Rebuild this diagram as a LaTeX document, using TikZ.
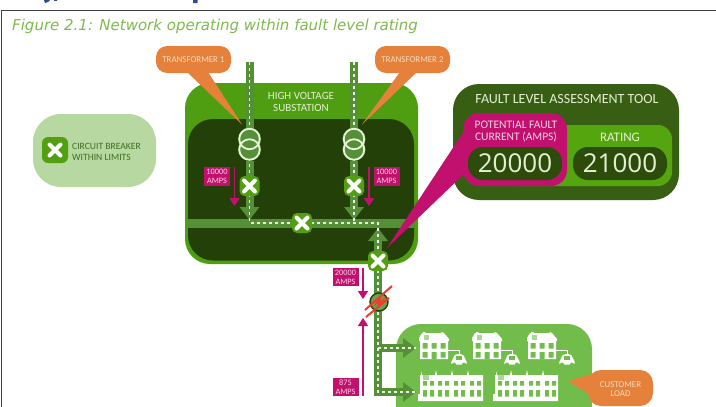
\documentclass[tikz,border=0pt]{standalone}
\usepackage{fontspec}
\setmainfont{Carlito}
\newfontfamily\capfont{DejaVu Sans}
\newfontfamily\numfont{Open Sans}
\usetikzlibrary{arrows.meta}
\pgfdeclarelayer{base}
\pgfdeclarelayer{wires}
\pgfsetlayers{base,wires,main}
\definecolor{capgreen}{HTML}{7FBA4E}
\definecolor{subgreen}{HTML}{4F9E12}
\definecolor{subdark}{HTML}{234008}
\definecolor{linegreen}{HTML}{558F38}
\definecolor{dashwhite}{HTML}{E8F2DC}
\definecolor{cbgreen}{HTML}{52A012}
\definecolor{magentaun}{HTML}{C2106E}
\definecolor{pinktext}{HTML}{F5D3E4}
\definecolor{calloutor}{HTML}{E5813B}
\definecolor{calltext}{HTML}{F6DCC0}
\definecolor{legendgr}{HTML}{B7D9A1}
\definecolor{legendtx}{HTML}{3F6E20}
\definecolor{toolgreen}{HTML}{375E12}
\definecolor{pillgreen}{HTML}{2D4C0B}
\definecolor{ratinggr}{HTML}{54A50E}
\definecolor{loadgreen}{HTML}{72BC4B}
\definecolor{txtlight}{HTML}{E4EFD2}
\definecolor{headnavy}{HTML}{2F4C8C}
\definecolor{faultred}{HTML}{E8402A}
\tikzset{
  x=1pt,y=-1pt,
  breaker/.style={rectangle,rounded corners=5pt,minimum size=20pt,inner sep=0pt,fill=cbgreen,
    path picture={\draw[white,line width=4pt,line cap=round]
      ([shift={(-5.5pt,-5.5pt)}]path picture bounding box.center)--([shift={(5.5pt,5.5pt)}]path picture bounding box.center)
      ([shift={(-5.5pt,5.5pt)}]path picture bounding box.center)--([shift={(5.5pt,-5.5pt)}]path picture bounding box.center);}},
  feeder/.style={draw=linegreen,line width=8pt},
  feederarrow/.style={draw=linegreen,line width=8pt,-{Triangle[length=13pt,width=19pt]}},
  dashline/.style={draw=dashwhite,line width=1.2pt,dash pattern=on 3.2pt off 2.8pt},
  ampbox/.style={fill=magentaun,text=pinktext,font=\fontsize{8.3}{9.2}\selectfont,align=center,inner sep=0pt,minimum width=26pt,minimum height=18.5pt},
  amparrow/.style={draw=magentaun,line width=1.7pt,-{Triangle[length=8pt,width=10pt]}},
  calloutlabel/.style={text=calltext,font=\fontsize{8.9}{9}\selectfont,align=center,inner sep=0pt},
  panellabel/.style={text=txtlight,align=center,inner sep=0pt},
  trcoil/.style={circle,draw=dashwhite,line width=1.8pt,minimum size=20.5pt,inner sep=0pt},
  valuepill/.style={rectangle,rounded corners=15pt,fill=pillgreen,minimum width=94pt,minimum height=33pt,inner sep=0pt,
    text=txtlight,font=\numfont\fontsize{26}{28}\selectfont},
}
% Detached house with its car on a charging lead
\newcommand{\detached}[3]{%
  \fill[white] (#1,#2+6) -- (#1+3,#2+1) -- (#1+4,#2+1) -- (#1+4,#2) -- (#1+6,#2) -- (#1+7,#2+1) -- (#1+22,#2+1) -- (#1+23,#2) -- (#1+25,#2+1) -- (#1+30,#2+7) -- (#1+30,#2+9) -- (#1+29,#2+9) -- (#1+29,#2+27) -- (#1+1,#2+27) -- (#1+1,#2+9) -- (#1,#2+9) -- cycle;
  \fill[loadgreen] (#1+3.5,#2+11) rectangle ++(5,5.5) (#1+12.5,#2+11) rectangle ++(5,5.5) (#1+21.5,#2+11) rectangle ++(5,5.5)
    (#1+3.5,#2+20) rectangle ++(5,5.5) (#1+12.5,#2+20) rectangle ++(5,7) (#1+21.5,#2+20) rectangle ++(5,5.5);
  \fill[loadgreen!60!white] (#1+5,#2+3) rectangle ++(5,5);
  \draw[white,line width=.6pt] (#1+29,#2+18) -- (#3,#2+18) -- (#3,#2+22);
  \fill[white,rounded corners=3pt] (#3-9,#2+32.5) -- (#3-5.5,#2+25.5) -- (#3-4,#2+22) -- (#3+4,#2+22) -- (#3+5.5,#2+25.5) -- (#3+9,#2+32.5) -- cycle;
  \fill[loadgreen] (#3-3,#2+24) rectangle ++(6,3.5);
  \fill[loadgreen] (#3-5,#2+32.5) circle (2pt) (#3+5,#2+32.5) circle (2pt);
}
% Terrace of four homes
\newcommand{\terrace}[2]{%
  \fill[white] (#1,#2+24) -- (#1+2,#2+24) -- (#1+2,#2+5) -- (#1+3,#2+5) -- (#1+3,#2+1) -- (#1+4,#2+5) -- (#1+17,#2+5) -- (#1+18,#2) -- (#1+19,#2+5) -- (#1+33,#2+5) -- (#1+34,#2) -- (#1+35,#2+5) -- (#1+49,#2+5) -- (#1+50,#2) -- (#1+51,#2+5) -- (#1+65,#2+5) -- (#1+65,#2+31) -- (#1,#2+31) -- cycle;
  \foreach \wx in {5,12,20,27,36,43,52,59}{
    \fill[loadgreen] (#1+\wx,#2+11) rectangle ++(4,4.5) (#1+\wx,#2+20) rectangle ++(4,6.5);
  }
  \fill[loadgreen!60!white] (#1+5,#2+4.5) rectangle ++(6,5);
}
\begin{document}
\begin{tikzpicture}
\clip (0,0) rectangle (716,407);

\begin{pgfonlayer}{base}
\fill[white] (0,0) rectangle (716,407);
% page rule and heading remnants
\fill[headnavy] (44,0) -- (50,0) -- (48,2) -- (45,3) -- cycle (54,0) rectangle (57,0.8) (193,0) rectangle (197.5,3);
\draw[black!75,line width=1.2pt] (716,10.3) -- (1.2,10.3) -- (1.2,407);
% legend panel
\fill[legendgr,rounded corners=28pt] (33,114) rectangle (156,187);
% substation
\fill[subgreen,rounded corners=25pt] (185,83) rectangle (418,264);
\fill[subdark,rounded corners=25pt] (188,119) rectangle (414,260.5);
\fill[linegreen] (188,219) rectangle (414,227.5);
% customer load
\fill[loadgreen,rounded corners=25pt] (396,324) rectangle (592,430);
\detached{419}{332}{459}
\detached{472}{332}{512}
\detached{527}{332}{567}
\terrace{418}{370}
\terrace{493}{370}
\end{pgfonlayer}

\node[anchor=west,inner sep=0pt,text=capgreen,font=\capfont\itshape\fontsize{15}{16}\selectfont] (caption) at (12,26) {Figure 2.1: Network operating within fault level rating};
\node[breaker,minimum size=26pt,rounded corners=6pt] (legendcb) at (55,150) {};
\node[anchor=west,inner sep=0pt,align=left,text=legendtx,font=\fontsize{9.6}{11}\selectfont] (legendtext) at (72,151.5) {CIRCUIT BREAKER\\WITHIN LIMITS};
\node[panellabel,font=\fontsize{11}{12}\selectfont] (sublabel) at (301,101.5) {HIGH VOLTAGE\\SUBSTATION};

% free ends and junctions of the network
\coordinate (in1) at (249.5,62);
\coordinate (in2) at (354,62);
\coordinate (bus1) at (249.5,220);
\coordinate (bus2) at (354,220);
\coordinate (busT1) at (249.5,223);
\coordinate (busT2) at (354,223);
\coordinate (busOut) at (378,223);
\coordinate (busTip) at (378,228);
\coordinate (loadA) at (416,348);
\coordinate (loadB) at (416,392);
\coordinate (teeA) at (378,348);
\coordinate (teeB) at (378,392);
\coordinate (teeC) at (374,392);

% breakers and transformers
\node[trcoil] (tr1a) at (249.5,139) {};
\node[trcoil] (tr1b) at (249.5,149.5) {};
\node[trcoil] (tr2a) at (354,139) {};
\node[trcoil] (tr2b) at (354,149.5) {};
\node[breaker] (cb1) at (249.5,186) {};
\node[breaker] (cb2) at (354,186) {};
\node[breaker] (cbbus) at (302,223) {};
\node[breaker] (cbfeed) at (378,261) {};
\node[circle,fill=linegreen!85!white,draw=subdark,line width=1.4pt,minimum size=18pt,inner sep=0pt] (cbopen) at (379,302) {};

\begin{pgfonlayer}{wires}
\draw[feeder] (in1) -- (tr1a);
\draw[feeder] (in2) -- (tr2a);
\draw[feederarrow] (tr1b) -- (bus1);
\draw[feederarrow] (tr2b) -- (bus2);
\draw[feederarrow] (cbfeed) -- (busTip);
\draw[feeder] (cbfeed) -- (teeB);
\draw[feederarrow] (teeA) -- (loadA);
\draw[feederarrow] (teeC) -- (loadB);
\draw[dashline] (in1) -- (busT1) -- (busOut) -- (teeB) -- (loadB);
\draw[dashline] (in2) -- (busT2);
\draw[dashline] (teeA) -- (loadA);
% winding discs sit over the conductors, under the rings
\fill[linegreen] (tr1a) circle (11.5pt) (tr1b) circle (11.5pt) (tr2a) circle (11.5pt) (tr2b) circle (11.5pt);
\end{pgfonlayer}

% fault flash and strike-through on the tripped breaker
\fill[faultred] (372,308) -- (381,296) -- (380.5,301) -- (387,296) -- (377,308.5) -- (378,303) -- cycle;
\draw[faultred,line width=2pt] (365,310) -- (392,286);
\draw[faultred,line width=2pt] (366,317) -- (389,298);

% current labels
\node[ampbox] (a1) at (217,176.5) {10000\\AMPS};
\node[ampbox] (a2) at (386.5,176.5) {10000\\AMPS};
\node[ampbox] (a3) at (345.5,277) {20000\\AMPS};
\node[ampbox] (a4) at (345.5,387) {875\\AMPS};
\coordinate (a1s) at (234.5,167);
\coordinate (a1e) at (234.5,206);
\coordinate (a2s) at (369,167);
\coordinate (a2e) at (369,206);
\coordinate (a3s) at (363,268);
\coordinate (a3e) at (363,299);
\coordinate (a4s) at (363,396);
\coordinate (a4e) at (363,318);
\draw[amparrow] (a1s) -- (a1e);
\draw[amparrow] (a2s) -- (a2e);
\draw[amparrow] (a3s) -- (a3e);
\draw[amparrow] (a4s) -- (a4e);

% transformer callouts
\fill[calloutor] (187,72) -- (242,124.5) -- (208,72) -- cycle;
\fill[calloutor] (400,72) -- (362,124.5) -- (417,72) -- cycle;
\fill[calloutor,rounded corners=11pt] (156,46) rectangle (231,73);
\fill[calloutor,rounded corners=11pt] (375,46) rectangle (450,73);
\node[calloutlabel] (t1label) at (193.5,59.5) {TRANSFORMER 1};
\node[calloutlabel] (t2label) at (412.5,59.5) {TRANSFORMER 2};

% customer load callout
\fill[calloutor] (568,381) -- (592,374) -- (592,396) -- cycle;
\fill[calloutor,rounded corners=13pt] (588,370) rectangle (653,406);
\node[calloutlabel] (loadlabel) at (620.5,389) {CUSTOMER\\LOAD};

% assessment tool
\fill[toolgreen,rounded corners=26pt] (453,84) rectangle (679,200);
\fill[ratinggr,rounded corners=14pt] (500,125) rectangle (672,186);
\fill[magentaun] (470,122) -- (387,248) -- (466,172) -- cycle;
\fill[magentaun,rounded corners=16pt] (463,113) rectangle (567,186);
\node[panellabel,font=\fontsize{14}{15}\selectfont] (tooltitle) at (567,99) {FAULT LEVEL ASSESSMENT TOOL};
\node[panellabel,text=pinktext,font=\fontsize{11.5}{12.4}\selectfont] (potlabel) at (516,131.5) {POTENTIAL FAULT\\CURRENT (AMPS)};
\node[panellabel,font=\fontsize{13}{14}\selectfont] (ratlabel) at (620,137) {RATING};
\node[valuepill] (v1) at (515,163.5) {20000};
\node[valuepill] (v2) at (620,163.5) {21000};
\end{tikzpicture}
\end{document}
